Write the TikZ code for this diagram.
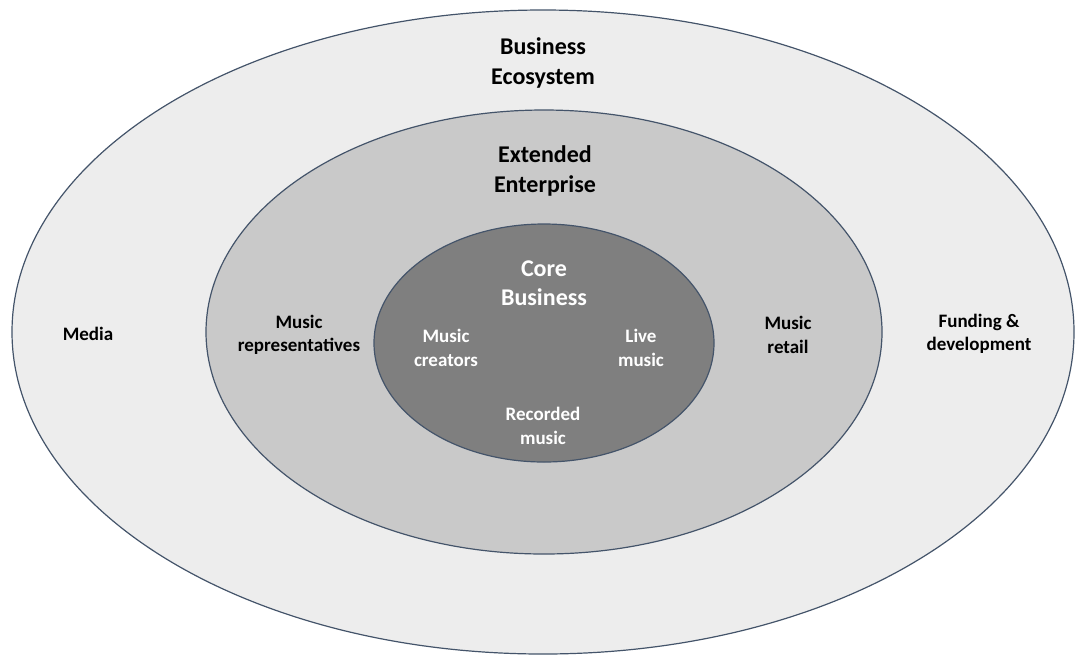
\documentclass[tikz,border=0pt]{standalone}
\usepackage{fontspec}
\setmainfont{Carlito}
\usepackage{tikz}
\usetikzlibrary{positioning}

\definecolor{ringline}{RGB}{68,84,106}
\definecolor{ecofill}{RGB}{237,237,237}
\definecolor{extfill}{RGB}{201,201,201}
\definecolor{corefill}{RGB}{127,127,127}

\begin{document}
\begin{tikzpicture}[x=1pt,y=-1pt,
        ring/.style={draw=ringline, line width=1.2pt},
        head/.style={align=center, font=\fontsize{24}{29.5}\selectfont\bfseries},
        lbl/.style={align=center, font=\fontsize{19}{23.5}\selectfont\bfseries}]
        \useasboundingbox (0,0) rectangle (1075,657);
        % the three rings, outside in
        \filldraw[ring, fill=ecofill] (543,332) ellipse[x radius=531, y radius=322];
        \filldraw[ring, fill=extfill] (544,332) ellipse[x radius=338, y radius=222];
        \filldraw[ring, fill=corefill] (544,343) ellipse[x radius=170, y radius=119];
        % ring titles
        \node[head] (eco) at (543,63) {Business\\Ecosystem};
        \node[head] (ext) at (545,171) {Extended\\Enterprise};
        \node[head, white] (core) at (544,283) {Core\\Business};
        % outer ring
        \node[lbl] (media) at (88,334) {Media};
        \node[lbl] (fund) at (979,334) {Funding \&\\development};
        % middle ring
        \node[lbl] (reps) at (299,335) {Music\\representatives};
        \node[lbl] (retail) at (788,335) {Music\\retail};
        % core
        \node[lbl, white] (creators) at (446,348) {Music\\creators};
        \node[lbl, white] (live) at (641,348) {Live\\music};
        \node[lbl, white] (recorded) at (543,426) {Recorded\\music};
    \end{tikzpicture}
\end{document}
